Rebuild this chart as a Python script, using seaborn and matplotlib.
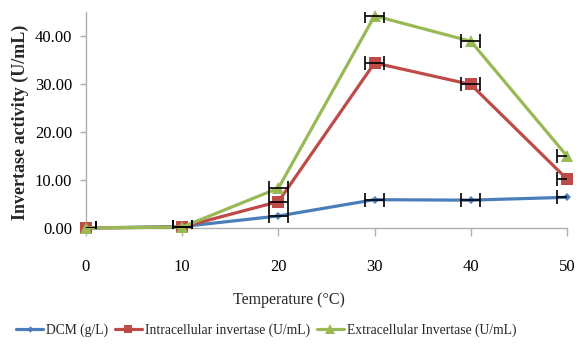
import numpy as np
import pandas as pd
import matplotlib
matplotlib.use("Agg")
import matplotlib.pyplot as plt
import seaborn as sns

# Temperature levels (°C)
temperature = [0, 10, 20, 30, 40, 50]

# Measured series
dcm = [0.0, 0.3, 2.5, 5.9, 5.8, 6.4]
intracellular = [0.0, 0.2, 5.5, 34.4, 29.9, 10.2]
extracellular = [0.0, 0.2, 8.3, 44.2, 38.9, 15.0]

# Horizontal error (temperature uncertainty)
temp_err = [1.0, 1.0, 1.0, 1.0, 1.0, 1.0]

series_names = ["DCM (g/L)", "Intracellular invertase (U/mL)",
                "Extracellular Invertase (U/mL)"]
series_values = [dcm, intracellular, extracellular]
colors = ["#4a7ebb", "#be4b48", "#98b954"]
markers = ["D", "s", "^"]
marker_sizes = [4, 8, 9]

y_ticks = [0, 10, 20, 30, 40]

sns.set_theme(style="white")
plt.rcParams["font.family"] = ["Liberation Serif", "DejaVu Serif"]

frames = []
for name, vals in zip(series_names, series_values):
    frames.append(pd.DataFrame({"Temperature": temperature,
                                "Activity": vals,
                                "Series": name}))
df = pd.concat(frames, ignore_index=True)

fig = plt.figure(figsize=(5.78, 3.48), dpi=100)
ax = fig.add_axes([86 / 578, 1 - 228 / 348, (567 - 86) / 578, (228 - 12) / 348])

for name, color, mk, ms in zip(series_names, colors, markers, marker_sizes):
    sub = df[df["Series"] == name]
    sns.lineplot(data=sub, x="Temperature", y="Activity", ax=ax,
                 color=color, marker=mk, markersize=ms, markeredgewidth=0,
                 linewidth=2.3, label=name, clip_on=False, zorder=3)

for vals in series_values:
    ax.errorbar(temperature, vals, xerr=temp_err, fmt="none",
                ecolor="black", elinewidth=1.2, capsize=5, capthick=1.2,
                zorder=4)

ax.set_xlim(0, 50)
ax.set_ylim(0, 45)
ax.set_xticks(temperature)
ax.set_xticklabels([str(t) for t in temperature])
ax.set_yticks(y_ticks)
ax.set_yticklabels([f"{v:.2f}" for v in y_ticks])

for side in ["top", "right"]:
    ax.spines[side].set_visible(False)
for side in ["left", "bottom"]:
    ax.spines[side].set_color("#b0b0b0")
    ax.spines[side].set_linewidth(1.0)

ax.tick_params(axis="x", which="major", direction="out", length=6,
               width=1, color="#b0b0b0", pad=16, labelsize=12,
               labelcolor="black", bottom=True)
ax.tick_params(axis="y", which="major", direction="out", length=4,
               width=1, color="#b0b0b0", pad=6, labelsize=12,
               labelcolor="black", left=True)
ax.grid(False)

ax.set_xlabel("")
ax.set_ylabel("")
fig.text(0.5, 1 - 300 / 348, "Temperature (°C)", ha="center", va="center",
         fontsize=11.5)
fig.text(20 / 578, 1 - 122 / 348, "Invertase activity (U/mL)", ha="center",
         va="center", rotation=90, fontsize=13, fontweight="bold")

if ax.legend_:
    ax.legend_.remove()
handles, labels = ax.get_legend_handles_labels()
fig.legend(handles[:3], labels[:3], loc="center",
           bbox_to_anchor=(266 / 578, 1 - 330 / 348), ncol=3, frameon=False,
           fontsize=9.8, handlelength=2.0, handletextpad=0.2,
           columnspacing=0.5, borderaxespad=0, markerscale=0.8)

fig.savefig("out.png", dpi=100)
